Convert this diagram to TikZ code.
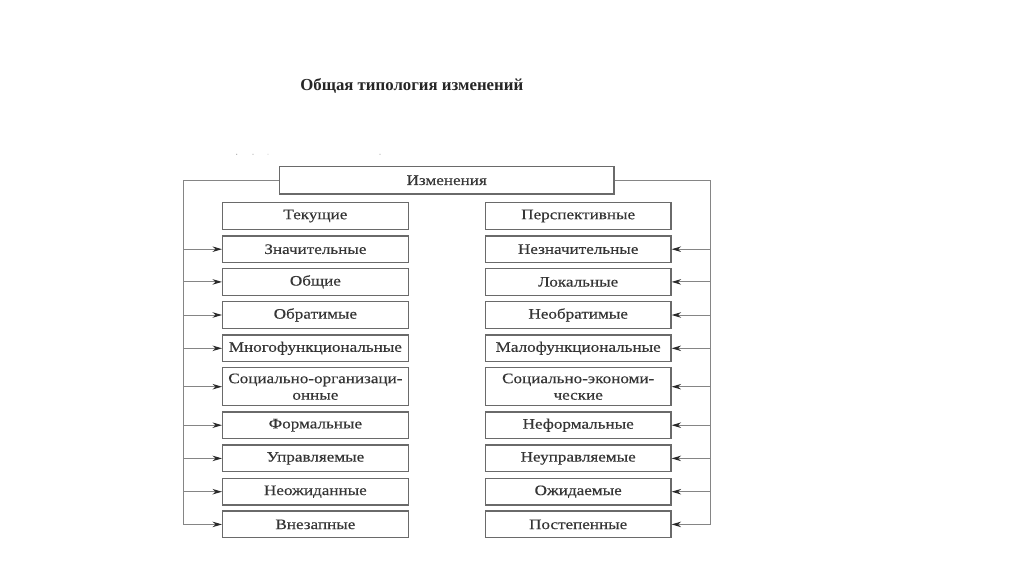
\documentclass[tikz,border=0pt]{standalone}
\usepackage{fontspec}
\setmainfont[FakeStretch=1.18,FakeBold=0.35]{Liberation Serif}
\newfontfamily\titlefont{Liberation Serif}
\usetikzlibrary{arrows.meta}
\definecolor{boxgray}{HTML}{6A6A6A}
\definecolor{linegray}{HTML}{858585}
\definecolor{textgray}{HTML}{353535}
\definecolor{tipgray}{HTML}{2A2A2A}
\tikzset{
  x=1pt, y=-1pt,
  catbox/.style={draw=boxgray, line width=1.3pt, minimum width=185.5pt, minimum height=26.6pt,
    inner sep=0pt, align=center, text=textgray, font=\fontsize{14.5}{16.5}\selectfont},
  topbox/.style={catbox, minimum width=334.7pt, minimum height=27.3pt},
  frameline/.style={draw=linegray, line width=1pt},
  arr/.style={frameline, -{Stealth[length=9.5pt,width=5.5pt,color=tipgray]}},
  speck/.style={fill=gray!60, inner sep=0pt, minimum size=1.3pt, circle}
}
\begin{document}
\begin{tikzpicture}
\useasboundingbox (0,0) rectangle (1024,576);
\fill[white] (0,0) rectangle (1024,576);
\node[font=\titlefont\bfseries\fontsize{16.8}{19}\selectfont, text=black!85] (title) at (411.8,85.5) {Общая типология изменений};
\node[speck] (s1) at (236.7,154.3) {};
\node[speck] (s2) at (253,154.3) {};
\node[speck, fill=gray!30] (s3) at (268,154.3) {};
\node[speck] (s4) at (380,154.3) {};

\node[topbox] (top) at (446.7,180.3) {Изменения};

\node[catbox] (L1) at (315.4,216) {Текущие};
\node[catbox] (L2) at (315.4,249.2) {Значительные};
\node[catbox] (L3) at (315.4,281.9) {Общие};
\node[catbox] (L4) at (315.4,315) {Обратимые};
\node[catbox] (L5) at (315.4,348.3) {Многофункциональные};
\node[catbox, minimum height=38pt] (L6) at (315.4,386.7) {Социально-организаци-\\онные};
\node[catbox] (L7) at (315.4,425.2) {Формальные};
\node[catbox] (L8) at (315.4,458.4) {Управляемые};
\node[catbox] (L9) at (315.4,491.7) {Неожиданные};
\node[catbox] (L10) at (315.4,524.4) {Внезапные};

\node[catbox] (R1) at (578.2,216) {Перспективные};
\node[catbox] (R2) at (578.2,249.2) {Незначительные};
\node[catbox] (R3) at (578.2,281.9) {Локальные};
\node[catbox] (R4) at (578.2,315) {Необратимые};
\node[catbox] (R5) at (578.2,348.3) {Малофункциональные};
\node[catbox, minimum height=38pt] (R6) at (578.2,386.7) {Социально-экономи-\\ческие};
\node[catbox] (R7) at (578.2,425.2) {Неформальные};
\node[catbox] (R8) at (578.2,458.4) {Неуправляемые};
\node[catbox] (R9) at (578.2,491.7) {Ожидаемые};
\node[catbox] (R10) at (578.2,524.4) {Постепенные};

\coordinate (lline) at (183.3,180.5);
\coordinate (rline) at (710.7,180.5);

\draw[frameline] (top.west) -| (L10.west -| lline);
\draw[frameline] (top.east) -| (R10.east -| rline);

\foreach \i in {2,...,10} {
  \draw[arr] (L\i.west -| lline) -- (L\i.west);
  \draw[arr] (R\i.east -| rline) -- (R\i.east);
}
\end{tikzpicture}
\end{document}
